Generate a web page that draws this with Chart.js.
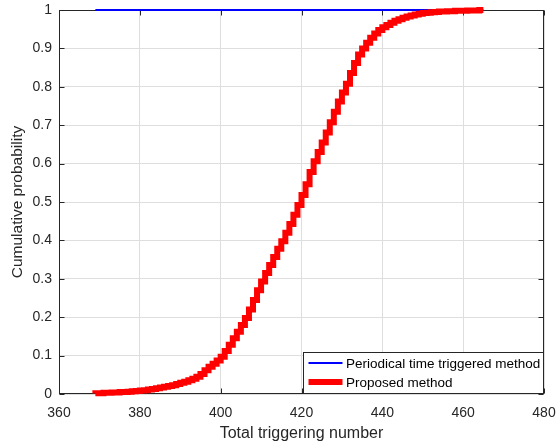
<!DOCTYPE html>
<html>
<head>
<meta charset="utf-8">
<script src="https://cdn.jsdelivr.net/npm/chart.js@4"></script>
<style>
html,body{margin:0;padding:0;background:#fff;}
#wrap{width:556px;height:444px;}
</style>
</head>
<body>
<div id="wrap"><canvas id="c" width="556" height="444"></canvas></div>
<script>
// ---- data ----
const proposedX = [369,370,371,372,373,374,375,376,377,378,379,380,381,382,383,384,385,386,387,388,389,390,391,392,393,394,395,396,397,398,399,400,401,402,403,404,405,406,407,408,409,410,411,412,413,414,415,416,417,418,419,420,421,422,423,424,425,426,427,428,429,430,431,432,433,434,435,436,437,438,439,440,441,442,443,444,445,446,447,448,449,450,451,452,453,454,455,456,457,458,459,460,461,462,463,464,465];
const proposedY = [0.001,0.002,0.002,0.003,0.003,0.004,0.004,0.005,0.005,0.006,0.007,0.008,0.009,0.010,0.012,0.013,0.015,0.017,0.019,0.021,0.023,0.026,0.029,0.032,0.036,0.040,0.045,0.052,0.062,0.071,0.079,0.087,0.097,0.112,0.128,0.145,0.162,0.180,0.198,0.220,0.245,0.270,0.293,0.315,0.336,0.357,0.378,0.398,0.420,0.443,0.467,0.492,0.518,0.546,0.578,0.606,0.630,0.655,0.681,0.708,0.735,0.762,0.785,0.808,0.836,0.862,0.884,0.900,0.915,0.928,0.939,0.948,0.955,0.961,0.967,0.972,0.976,0.980,0.983,0.986,0.988,0.990,0.992,0.993,0.994,0.995,0.996,0.996,0.997,0.997,0.998,0.998,0.998,0.999,0.999,0.999,1.000];
const periodicX = [369,465];
const periodicY = [1,1];
const xTickValues = [360,380,400,420,440,460,480];
const xTickLabels = ['360','380','400','420','440','460','480'];
const yTickValues = [0,0.1,0.2,0.3,0.4,0.5,0.6,0.7,0.8,0.9,1];
const yTickLabels = ['0','0.1','0.2','0.3','0.4','0.5','0.6','0.7','0.8','0.9','1'];
const seriesNames = ['Periodical time triggered method','Proposed method'];
const xTitle = 'Total triggering number';
const yTitle = 'Cumulative probability';

const FONT = '"Liberation Sans", Arial, Helvetica, sans-serif';
const AXC = '#262626';

const toPts = (xs, ys) => xs.map((x, i) => ({x: x, y: ys[i]}));

const boxPlugin = {
  id: 'box',
  beforeDatasetsDraw(chart) {
    const {ctx, chartArea: a, scales} = chart;
    ctx.save();
    ctx.strokeStyle = AXC;
    ctx.lineWidth = 1;
    const L = Math.round(a.left) + 0.5, R = Math.round(a.right) - 0.5;
    const T = Math.round(a.top) + 0.5, B = Math.round(a.bottom) - 0.5;
    ctx.strokeRect(L, T, R - L, B - T);
    ctx.beginPath();
    xTickValues.forEach(v => {
      const p = Math.round(scales.x.getPixelForValue(v)) + 0.5;
      ctx.moveTo(p, B); ctx.lineTo(p, B - 5);
      ctx.moveTo(p, T); ctx.lineTo(p, T + 5);
    });
    yTickValues.forEach(v => {
      const p = Math.round(scales.y.getPixelForValue(v)) + 0.5;
      ctx.moveTo(L, p); ctx.lineTo(L + 5, p);
      ctx.moveTo(R, p); ctx.lineTo(R - 5, p);
    });
    ctx.stroke();
    ctx.restore();
  },
  afterDatasetsDraw(chart) {
    const {ctx, chartArea: a} = chart;
    ctx.save();
    const w = 240, h = 41;
    const x0 = Math.round(a.right) - w - 0.5, y0 = Math.round(a.bottom) - h - 0.5;
    ctx.fillStyle = '#fff';
    ctx.fillRect(x0, y0, w, h);
    ctx.strokeStyle = AXC;
    ctx.lineWidth = 1;
    ctx.strokeRect(x0, y0, w, h);
    const rows = [
      {y: y0 + 10.5, color: '#0000ff', lw: 2},
      {y: y0 + 29.5, color: '#ff0000', lw: 6}
    ];
    ctx.font = '13.5px ' + FONT;
    ctx.textBaseline = 'middle';
    ctx.textAlign = 'left';
    rows.forEach((r, i) => {
      ctx.strokeStyle = r.color;
      ctx.lineWidth = r.lw;
      ctx.beginPath();
      ctx.moveTo(x0 + 5, r.y);
      ctx.lineTo(x0 + 39, r.y);
      ctx.stroke();
      ctx.fillStyle = '#000';
      ctx.fillText(seriesNames[i], x0 + 42.5, r.y + 1);
    });
    ctx.restore();
  }
};

new Chart(document.getElementById('c'), {
  type: 'line',
  data: {
    datasets: [
      {
        label: seriesNames[0],
        data: toPts(periodicX, periodicY),
        borderColor: '#0000ff',
        borderWidth: 2.2,
        pointRadius: 0,
        fill: false,
        order: 2,
        clip: false
      },
      {
        label: seriesNames[1],
        data: toPts(proposedX, proposedY),
        borderColor: '#ff0000',
        borderWidth: 6,
        pointRadius: 0,
        stepped: 'after',
        fill: false,
        borderJoinStyle: 'miter',
        order: 1,
        clip: false
      }
    ]
  },
  options: {
    responsive: false,
    animation: false,
    devicePixelRatio: 1,
    layout: {padding: {top: 10, right: 12, left: 0, bottom: 0}},
    plugins: {legend: {display: false}, tooltip: {enabled: false}},
    scales: {
      x: {
        type: 'linear',
        min: 360, max: 480,
        afterBuildTicks: s => { s.ticks = xTickValues.map(v => ({value: v})); },
        afterFit: s => { s.height = 50; },
        grid: {color: '#dedede', lineWidth: 1, drawTicks: true, tickLength: 11, tickColor: 'rgba(0,0,0,0)'},
        border: {display: false},
        ticks: {
          padding: 0,
          color: AXC,
          font: {family: FONT, size: 14},
          maxRotation: 0,
          autoSkip: false,
          callback: (v) => { const i = xTickValues.indexOf(v); return i >= 0 ? xTickLabels[i] : ''; }
        },
        title: {display: true, text: xTitle, color: AXC, font: {family: FONT, size: 16}, padding: {top: 0, bottom: 1}}
      },
      y: {
        type: 'linear',
        min: 0, max: 1,
        afterBuildTicks: s => { s.ticks = yTickValues.map(v => ({value: v})); },
        afterFit: s => { s.width = 59; },
        grid: {color: '#dedede', lineWidth: 1, drawTicks: true, tickLength: 7, tickColor: 'rgba(0,0,0,0)'},
        border: {display: false},
        ticks: {
          padding: 0,
          color: AXC,
          font: {family: FONT, size: 14},
          autoSkip: false,
          callback: (v) => { const i = yTickValues.findIndex(t => Math.abs(t - v) < 1e-9); return i >= 0 ? yTickLabels[i] : ''; }
        },
        title: {display: true, text: yTitle, color: AXC, font: {family: FONT, size: 15.5}, padding: {top: 8, bottom: 0}}
      }
    }
  },
  plugins: [boxPlugin]
});
</script>
</body>
</html>
